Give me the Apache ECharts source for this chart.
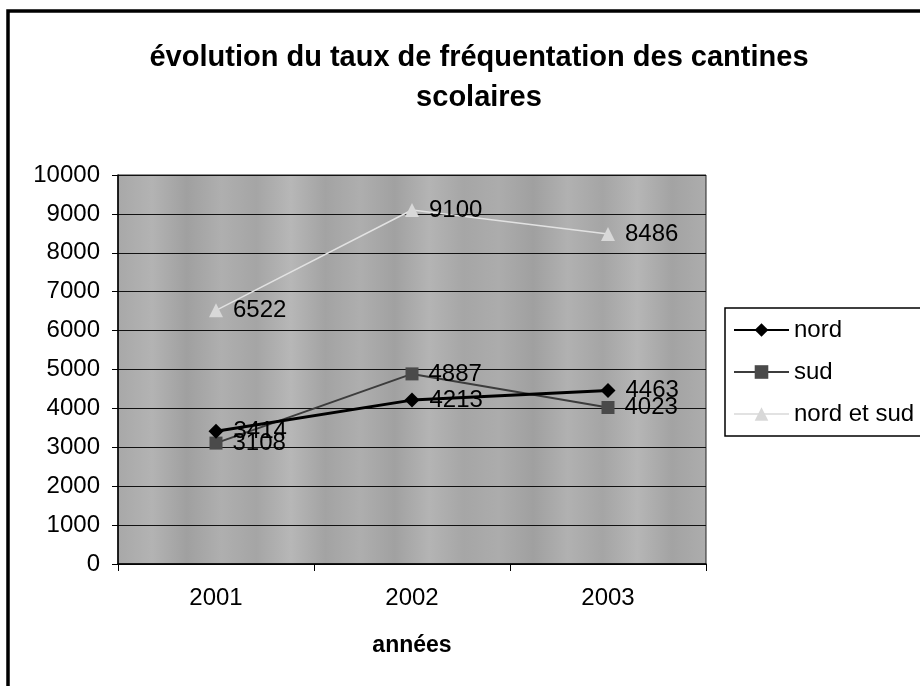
<!DOCTYPE html>
<html>
<head>
<meta charset="utf-8">
<script src="https://cdn.jsdelivr.net/npm/echarts@6/dist/echarts.min.js"></script>
<style>
  html, body { margin: 0; padding: 0; background: #fff; }
  #chart { width: 920px; height: 686px; }
</style>
</head>
<body>
<div id="chart"></div>
<script>
// Fréquentation des cantines scolaires, par secteur
const years = ['2001', '2002', '2003'];
const nord = [3414, 4213, 4463];
const sud = [3108, 4887, 4023];
const nordEtSud = [6522, 9100, 8486];
const yTicks = { min: 0, max: 10000, interval: 1000 };

const FONT = '"Liberation Sans", Arial, sans-serif';

// Grey plot area with soft vertical banding
const bandShades = ['#a8a8a8', '#b3b3b3', '#a0a0a0', '#afafaf', '#a5a5a5', '#b7b7b7',
  '#a3a3a3', '#aeaeae', '#a1a1a1', '#b4b4b4', '#a6a6a6', '#acacac', '#a0a0a0', '#b1b1b1',
  '#a5a5a5', '#b6b6b6', '#a3a3a3', '#adadad'];
const bandStops = bandShades.map((c, i) => ({ offset: i / (bandShades.length - 1), color: c }));

const labelStyle = {
  show: true,
  position: 'right',
  distance: 10,
  color: '#000',
  fontFamily: FONT,
  fontSize: 24,
  formatter: '{c}'
};

const chart = echarts.init(document.getElementById('chart'), null, { renderer: 'canvas' });
chart.setOption({
  animation: false,
  backgroundColor: '#fff',
  title: {
    text: 'évolution du taux de fréquentation des cantines\nscolaires',
    left: 474,
    top: 33,
    textAlign: 'center',
    textStyle: {
      fontFamily: FONT,
      fontWeight: 'bold',
      fontSize: 29,
      lineHeight: 40,
      color: '#000'
    }
  },
  legend: {
    orient: 'vertical',
    left: 725,
    top: 308,
    padding: [10, 10, 10, 8],
    itemGap: 18,
    itemWidth: 55,
    itemHeight: 17,
    borderColor: '#000',
    borderWidth: 1.5,
    backgroundColor: '#fff',
    textStyle: { fontFamily: FONT, fontSize: 24, color: '#000', padding: [0, 0, 0, 0] },
    data: ['nord', 'sud', 'nord et sud']
  },
  grid: {
    left: 118,
    right: 214,
    top: 175,
    bottom: 122,
    show: true,
    backgroundColor: new echarts.graphic.LinearGradient(0, 0, 1, 0, bandStops),
    borderColor: '#222',
    borderWidth: 1
  },
  xAxis: {
    type: 'category',
    data: years,
    boundaryGap: true,
    name: 'années',
    nameLocation: 'middle',
    nameGap: 70,
    nameTextStyle: {
      fontFamily: FONT,
      fontWeight: 'bold',
      fontSize: 23,
      color: '#000',
      verticalAlign: 'top'
    },
    axisLine: { lineStyle: { color: '#000', width: 1.5 } },
    axisTick: { show: true, length: 7, alignWithLabel: false, lineStyle: { color: '#000' } },
    axisLabel: { fontFamily: FONT, fontSize: 24, color: '#000', margin: 22 },
    splitLine: { show: false }
  },
  yAxis: {
    type: 'value',
    min: yTicks.min,
    max: yTicks.max,
    interval: yTicks.interval,
    axisLine: { show: true, lineStyle: { color: '#000', width: 1.5 } },
    axisTick: { show: true, length: 6, lineStyle: { color: '#000' } },
    axisLabel: {
      fontFamily: FONT,
      fontSize: 24,
      color: '#000',
      margin: 18,
      formatter: (v) => String(v)
    },
    splitLine: { show: true, lineStyle: { color: '#111', width: 1 } }
  },
  series: [
    {
      name: 'nord',
      type: 'line',
      data: nord,
      symbol: 'diamond',
      symbolSize: 15,
      itemStyle: { color: '#000' },
      lineStyle: { color: '#000', width: 3 },
      label: labelStyle,
      z: 4
    },
    {
      name: 'sud',
      type: 'line',
      data: sud,
      symbol: 'rect',
      symbolSize: 13,
      itemStyle: { color: '#4a4a4a' },
      lineStyle: { color: '#3c3c3c', width: 2 },
      label: labelStyle,
      z: 3
    },
    {
      name: 'nord et sud',
      type: 'line',
      data: nordEtSud,
      symbol: 'triangle',
      symbolSize: 14,
      itemStyle: { color: '#d8d8d8' },
      lineStyle: { color: '#e2e2e2', width: 1.5 },
      label: labelStyle,
      z: 2
    }
  ],
  graphic: [
    {
      type: 'rect',
      shape: { x: 8, y: 11, width: 940, height: 720 },
      style: { fill: 'none', stroke: '#000', lineWidth: 3.5 },
      silent: true,
      z: 100
    }
  ]
});
</script>
</body>
</html>
